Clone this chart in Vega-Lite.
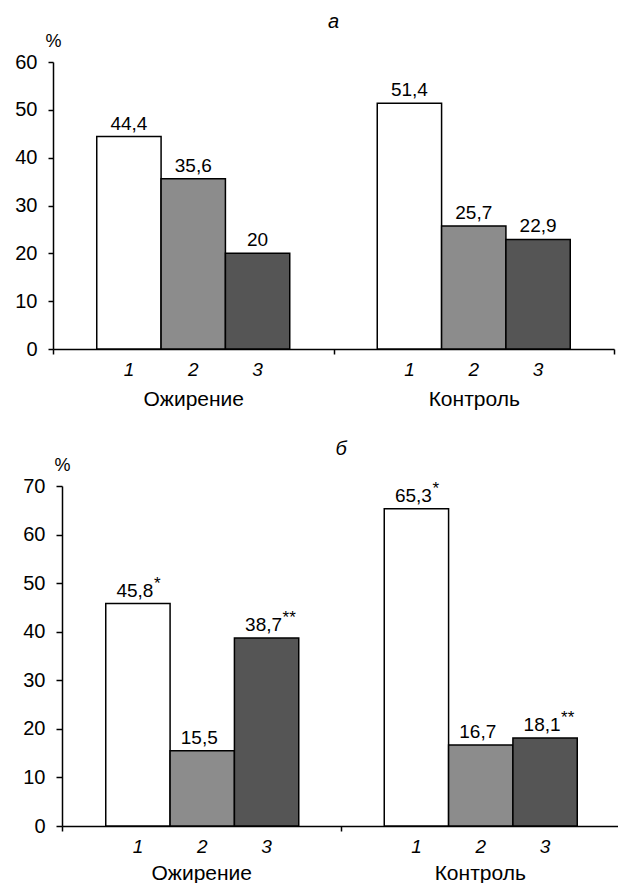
{
  "$schema": "https://vega.github.io/schema/vega-lite/v6.json",
  "padding": {"left": 14, "top": 12, "right": 0, "bottom": 0},
  "background": "white",
  "spacing": 30,
  "config": {
    "view": {"stroke": null},
    "font": "Liberation Sans",
    "axis": {"grid": false, "domainColor": "black", "tickColor": "black", "labelColor": "black", "titleColor": "black", "domainWidth": 1.5, "tickWidth": 1.5},
    "title": {"color": "black"}
  },
  "datasets": {
    "a": [
      {"group": "Ожирение", "cat": "1", "value": 44.4, "label": "44,4", "star": ""},
      {"group": "Ожирение", "cat": "2", "value": 35.6, "label": "35,6", "star": ""},
      {"group": "Ожирение", "cat": "3", "value": 20, "label": "20", "star": ""},
      {"group": "Контроль", "cat": "1", "value": 51.4, "label": "51,4", "star": ""},
      {"group": "Контроль", "cat": "2", "value": 25.7, "label": "25,7", "star": ""},
      {"group": "Контроль", "cat": "3", "value": 22.9, "label": "22,9", "star": ""}
    ],
    "b": [
      {"group": "Ожирение", "cat": "1", "value": 45.8, "label": "45,8", "star": "*"},
      {"group": "Ожирение", "cat": "2", "value": 15.5, "label": "15,5", "star": ""},
      {"group": "Ожирение", "cat": "3", "value": 38.7, "label": "38,7", "star": "**"},
      {"group": "Контроль", "cat": "1", "value": 65.3, "label": "65,3", "star": "*"},
      {"group": "Контроль", "cat": "2", "value": 16.7, "label": "16,7", "star": ""},
      {"group": "Контроль", "cat": "3", "value": 18.1, "label": "18,1", "star": "**"}
    ]
  },
  "vconcat": [
    {
      "width": 561,
      "height": 287,
      "data": {"name": "a"},
      "title": {"text": "а", "fontSize": 20, "fontStyle": "italic", "fontWeight": "normal", "anchor": "middle", "frame": "group", "offset": 0},
      "encoding": {
        "x": {"field": "group", "type": "nominal", "sort": ["Ожирение", "Контроль"], "scale": {"paddingInner": 0, "paddingOuter": 0},
          "axis": {"title": null, "tickBand": "extent", "tickSize": 5, "labelAngle": 0, "labelFontSize": 21, "labelPadding": 34}},
        "xOffset": {"field": "cat", "type": "nominal", "scale": {"paddingInner": 0, "paddingOuter": 0.68}}
      },
      "layer": [
        {
          "mark": {"type": "bar", "stroke": "black", "strokeWidth": 1.5},
          "encoding": {
            "y": {"field": "value", "type": "quantitative", "scale": {"domain": [0, 60]},
              "axis": {"title": "%", "titleAngle": 0, "titleX": 0, "titleY": -16, "titleAlign": "center", "titleBaseline": "alphabetic", "titleFontSize": 18, "titleFontWeight": "normal", "values": [0, 10, 20, 30, 40, 50, 60], "tickSize": 5, "labelPadding": 11, "labelFontSize": 20}},
            "fill": {"field": "cat", "type": "nominal", "scale": {"domain": ["1", "2", "3"], "range": ["#ffffff", "#8c8c8c", "#555555"]}, "legend": null}
          }
        },
        {
          "mark": {"type": "text", "baseline": "alphabetic", "dy": -7, "fontSize": 19, "color": "black"},
          "encoding": {
            "y": {"field": "value", "type": "quantitative"},
            "text": {"field": "label"}
          }
        },
        {
          "mark": {"type": "text", "baseline": "middle", "fontStyle": "italic", "dy": 21, "fontSize": 19, "color": "black"},
          "encoding": {
            "y": {"datum": 0},
            "text": {"field": "cat"}
          }
        }
      ]
    },
    {
      "width": 566,
      "height": 340,
      "data": {"name": "b"},
      "title": {"text": "б", "fontSize": 20, "fontStyle": "italic", "fontWeight": "normal", "anchor": "middle", "frame": "group", "offset": -3, "dx": 5},
      "encoding": {
        "x": {"field": "group", "type": "nominal", "sort": ["Ожирение", "Контроль"], "scale": {"paddingInner": 0, "paddingOuter": 0, "range": [9, 566]},
          "axis": {"title": null, "tickBand": "extent", "tickSize": 5, "labelAngle": 0, "labelFontSize": 21, "labelPadding": 31}},
        "xOffset": {"field": "cat", "type": "nominal", "scale": {"paddingInner": 0, "paddingOuter": 0.66}}
      },
      "layer": [
        {
          "mark": {"type": "bar", "stroke": "black", "strokeWidth": 1.5},
          "encoding": {
            "y": {"field": "value", "type": "quantitative", "scale": {"domain": [0, 70]},
              "axis": {"title": "%", "titleAngle": 0, "titleX": 0, "titleY": -16, "titleAlign": "center", "titleBaseline": "alphabetic", "titleFontSize": 18, "titleFontWeight": "normal", "values": [0, 10, 20, 30, 40, 50, 60, 70], "tickSize": 6, "labelPadding": 11, "labelFontSize": 20, "offset": -9}},
            "fill": {"field": "cat", "type": "nominal", "scale": {"domain": ["1", "2", "3"], "range": ["#ffffff", "#8c8c8c", "#555555"]}, "legend": null}
          }
        },
        {
          "mark": {"type": "text", "baseline": "alphabetic", "dy": -7, "dx": -3, "fontSize": 19, "color": "black"},
          "encoding": {
            "y": {"field": "value", "type": "quantitative"},
            "text": {"field": "label"}
          }
        },
        {
          "mark": {"type": "text", "baseline": "alphabetic", "align": "left", "dy": -15, "dx": 16, "fontSize": 17, "color": "black"},
          "encoding": {
            "y": {"field": "value", "type": "quantitative"},
            "text": {"field": "star"}
          }
        },
        {
          "mark": {"type": "text", "baseline": "middle", "fontStyle": "italic", "dy": 21, "fontSize": 19, "color": "black"},
          "encoding": {
            "y": {"datum": 0},
            "text": {"field": "cat"}
          }
        }
      ]
    }
  ]
}
